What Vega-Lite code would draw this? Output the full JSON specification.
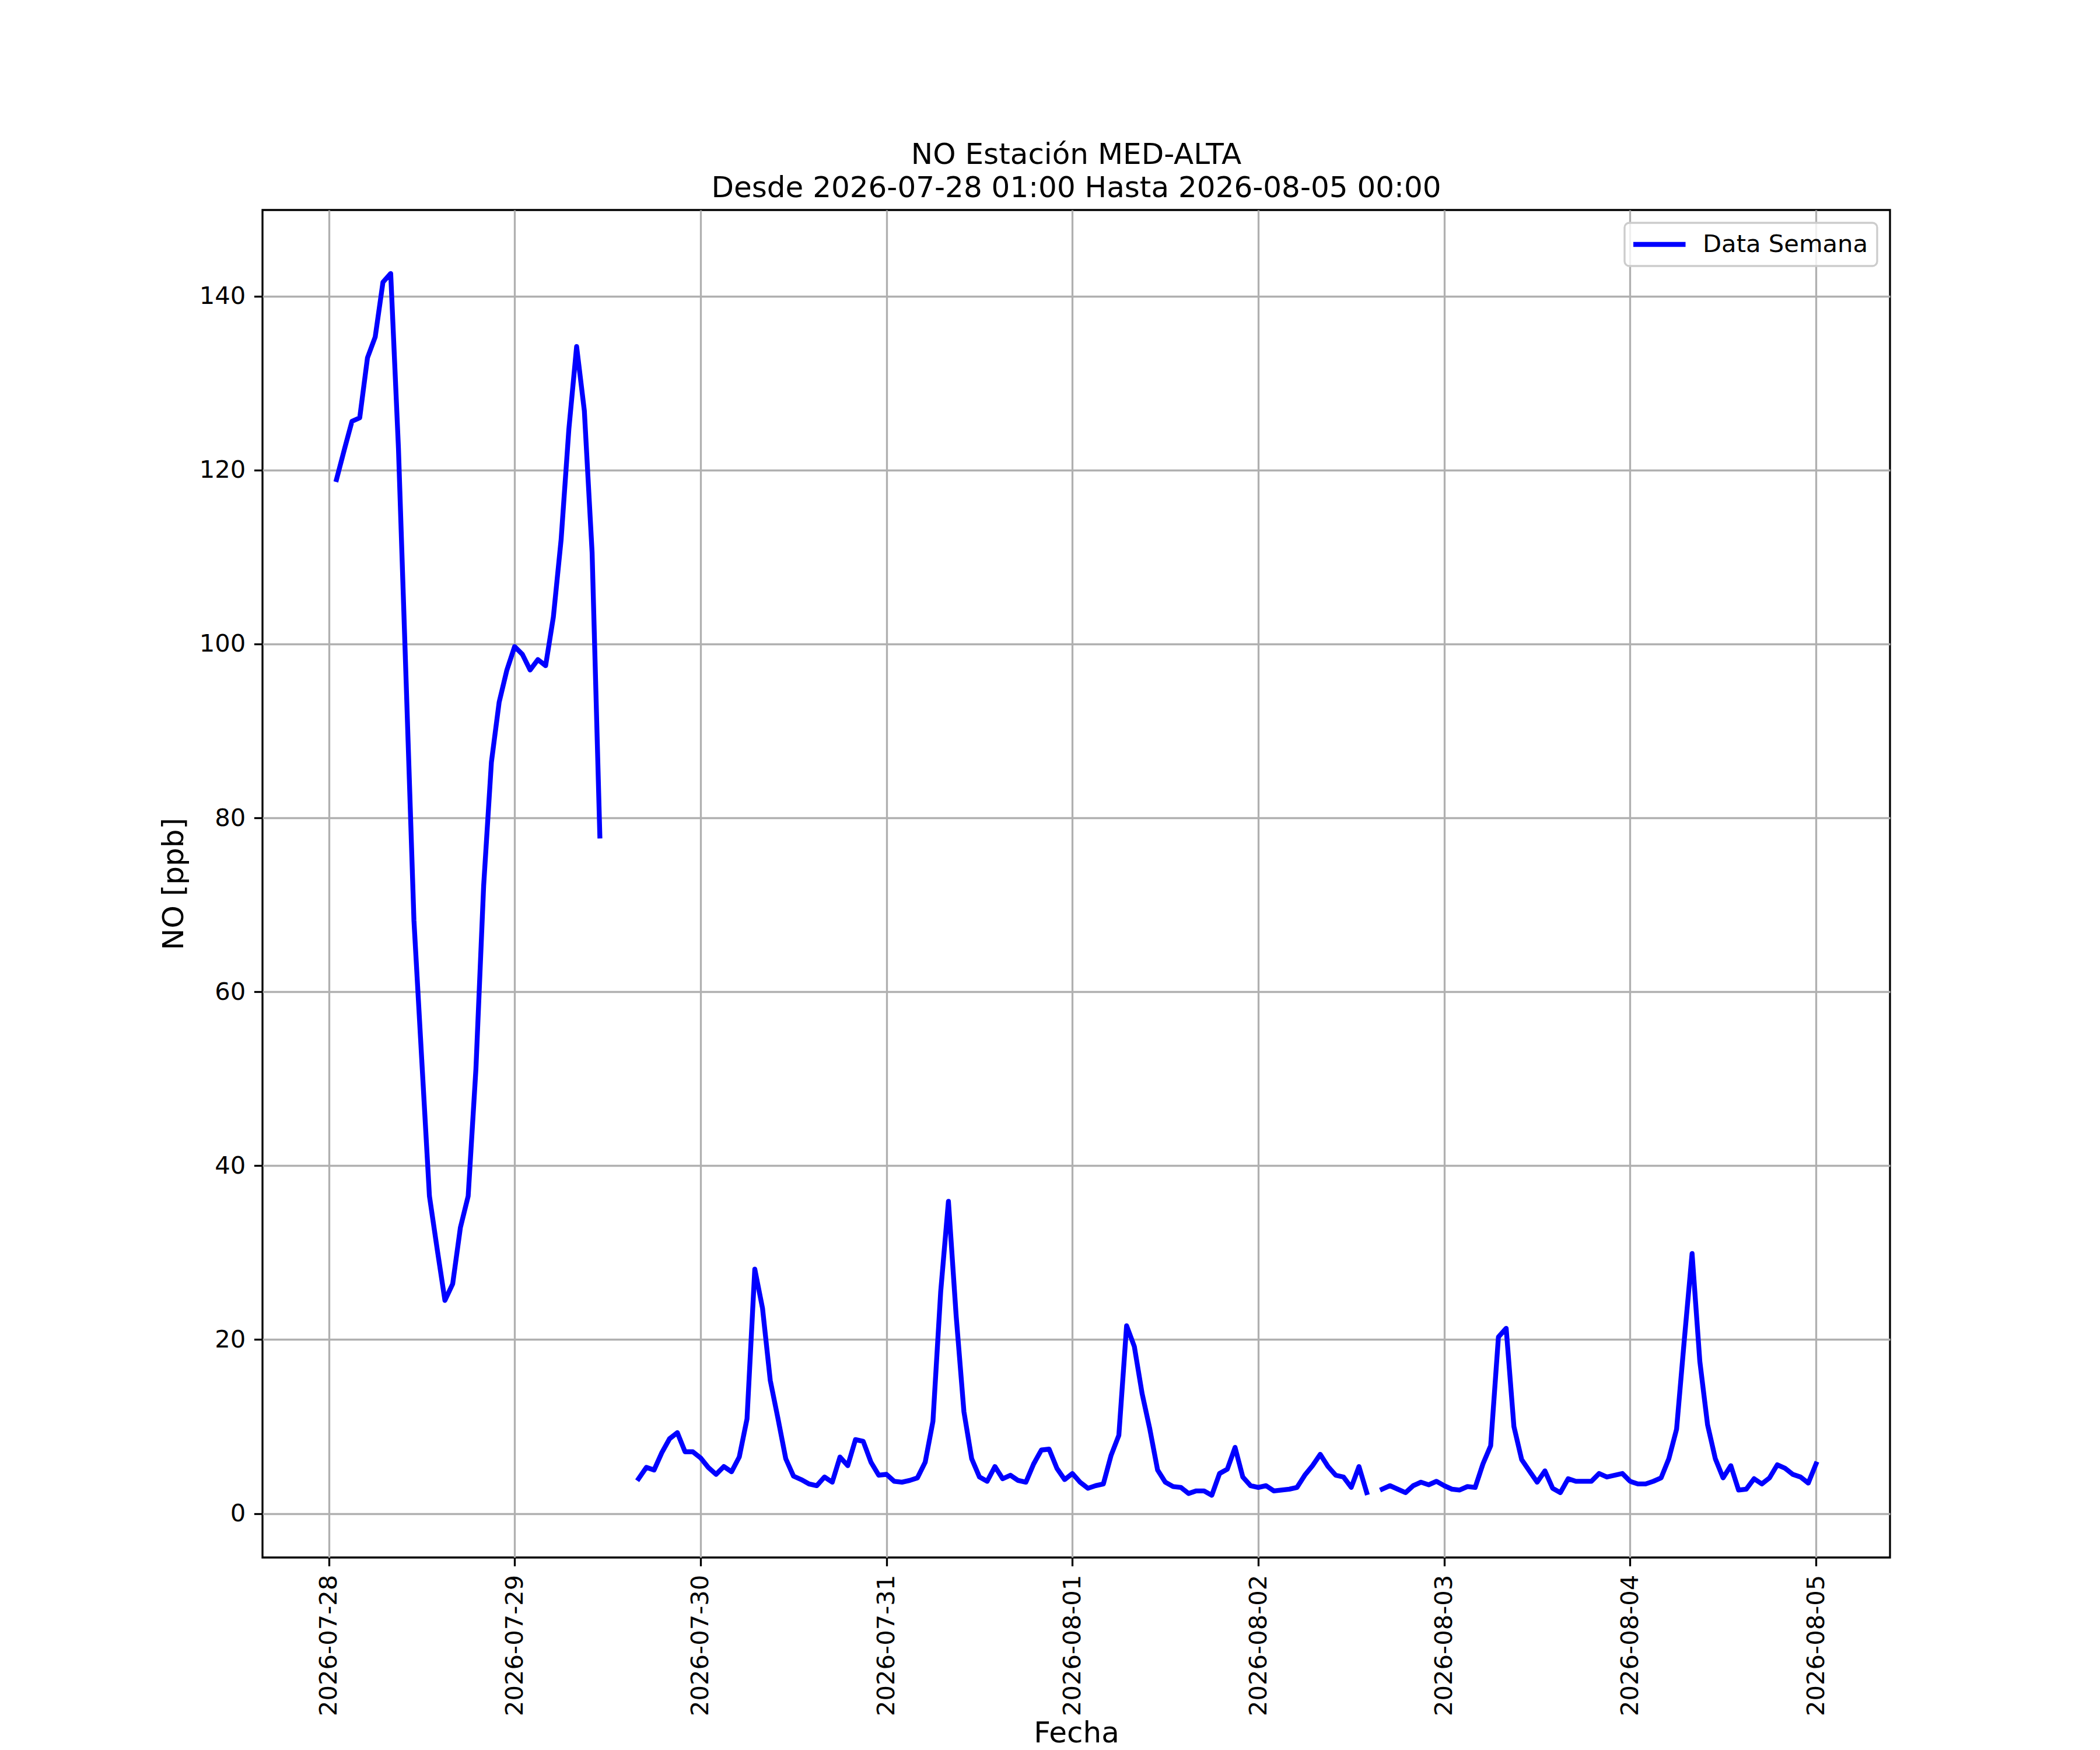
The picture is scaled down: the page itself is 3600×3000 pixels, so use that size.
{
  "$schema": "https://vega.github.io/schema/vega-lite/v6.json",
  "width": 2790,
  "height": 2310,
  "autosize": {"type": "none"},
  "padding": {"left": 450, "top": 360, "right": 360, "bottom": 330},
  "background": "white",
  "title": {
    "text": ["NO Estación MED-ALTA", "Desde 2026-07-28 01:00 Hasta 2026-08-05 00:00"],
    "anchor": "middle",
    "frame": "group",
    "font": "DejaVu Sans",
    "fontSize": 50,
    "fontWeight": "normal",
    "color": "black",
    "lineHeight": 57,
    "offset": 12
  },
  "data": {
    "format": {"parse": {"t": "date:'%Y-%m-%d %H:%M'"}},
    "values": [
      {"t": "2026-07-28 01:00", "no": 118.9},
      {"t": "2026-07-28 02:00", "no": 122.3},
      {"t": "2026-07-28 03:00", "no": 125.6},
      {"t": "2026-07-28 04:00", "no": 126.0},
      {"t": "2026-07-28 05:00", "no": 132.9},
      {"t": "2026-07-28 06:00", "no": 135.3},
      {"t": "2026-07-28 07:00", "no": 141.6},
      {"t": "2026-07-28 08:00", "no": 142.6},
      {"t": "2026-07-28 09:00", "no": 122.5},
      {"t": "2026-07-28 10:00", "no": 95.5},
      {"t": "2026-07-28 11:00", "no": 68.2},
      {"t": "2026-07-28 12:00", "no": 52.3},
      {"t": "2026-07-28 13:00", "no": 36.5},
      {"t": "2026-07-28 14:00", "no": 30.4},
      {"t": "2026-07-28 15:00", "no": 24.5},
      {"t": "2026-07-28 16:00", "no": 26.4},
      {"t": "2026-07-28 17:00", "no": 32.9},
      {"t": "2026-07-28 18:00", "no": 36.5},
      {"t": "2026-07-28 19:00", "no": 51.1},
      {"t": "2026-07-28 20:00", "no": 72.2},
      {"t": "2026-07-28 21:00", "no": 86.4},
      {"t": "2026-07-28 22:00", "no": 93.3},
      {"t": "2026-07-28 23:00", "no": 97.0},
      {"t": "2026-07-29 00:00", "no": 99.7},
      {"t": "2026-07-29 01:00", "no": 98.8},
      {"t": "2026-07-29 02:00", "no": 97.0},
      {"t": "2026-07-29 03:00", "no": 98.2},
      {"t": "2026-07-29 04:00", "no": 97.5},
      {"t": "2026-07-29 05:00", "no": 103.1},
      {"t": "2026-07-29 06:00", "no": 112.0},
      {"t": "2026-07-29 07:00", "no": 124.7},
      {"t": "2026-07-29 08:00", "no": 134.2},
      {"t": "2026-07-29 09:00", "no": 126.8},
      {"t": "2026-07-29 10:00", "no": 110.5},
      {"t": "2026-07-29 11:00", "no": 77.9},
      {"t": "2026-07-29 12:00", "no": null},
      {"t": "2026-07-29 13:00", "no": null},
      {"t": "2026-07-29 14:00", "no": null},
      {"t": "2026-07-29 15:00", "no": null},
      {"t": "2026-07-29 16:00", "no": 4.0},
      {"t": "2026-07-29 17:00", "no": 5.3},
      {"t": "2026-07-29 18:00", "no": 5.0},
      {"t": "2026-07-29 19:00", "no": 7.0},
      {"t": "2026-07-29 20:00", "no": 8.6},
      {"t": "2026-07-29 21:00", "no": 9.3},
      {"t": "2026-07-29 22:00", "no": 7.1},
      {"t": "2026-07-29 23:00", "no": 7.1},
      {"t": "2026-07-30 00:00", "no": 6.4},
      {"t": "2026-07-30 01:00", "no": 5.3},
      {"t": "2026-07-30 02:00", "no": 4.5},
      {"t": "2026-07-30 03:00", "no": 5.4},
      {"t": "2026-07-30 04:00", "no": 4.8},
      {"t": "2026-07-30 05:00", "no": 6.5},
      {"t": "2026-07-30 06:00", "no": 10.9},
      {"t": "2026-07-30 07:00", "no": 28.1},
      {"t": "2026-07-30 08:00", "no": 23.6},
      {"t": "2026-07-30 09:00", "no": 15.3},
      {"t": "2026-07-30 10:00", "no": 10.9},
      {"t": "2026-07-30 11:00", "no": 6.3},
      {"t": "2026-07-30 12:00", "no": 4.3},
      {"t": "2026-07-30 13:00", "no": 3.9},
      {"t": "2026-07-30 14:00", "no": 3.4},
      {"t": "2026-07-30 15:00", "no": 3.2},
      {"t": "2026-07-30 16:00", "no": 4.2},
      {"t": "2026-07-30 17:00", "no": 3.6},
      {"t": "2026-07-30 18:00", "no": 6.5},
      {"t": "2026-07-30 19:00", "no": 5.5},
      {"t": "2026-07-30 20:00", "no": 8.5},
      {"t": "2026-07-30 21:00", "no": 8.3},
      {"t": "2026-07-30 22:00", "no": 5.9},
      {"t": "2026-07-30 23:00", "no": 4.4},
      {"t": "2026-07-31 00:00", "no": 4.5},
      {"t": "2026-07-31 01:00", "no": 3.7},
      {"t": "2026-07-31 02:00", "no": 3.6},
      {"t": "2026-07-31 03:00", "no": 3.8},
      {"t": "2026-07-31 04:00", "no": 4.1},
      {"t": "2026-07-31 05:00", "no": 5.9},
      {"t": "2026-07-31 06:00", "no": 10.6},
      {"t": "2026-07-31 07:00", "no": 25.5},
      {"t": "2026-07-31 08:00", "no": 35.9},
      {"t": "2026-07-31 09:00", "no": 22.7},
      {"t": "2026-07-31 10:00", "no": 11.7},
      {"t": "2026-07-31 11:00", "no": 6.3},
      {"t": "2026-07-31 12:00", "no": 4.2},
      {"t": "2026-07-31 13:00", "no": 3.7},
      {"t": "2026-07-31 14:00", "no": 5.4},
      {"t": "2026-07-31 15:00", "no": 4.0},
      {"t": "2026-07-31 16:00", "no": 4.4},
      {"t": "2026-07-31 17:00", "no": 3.8},
      {"t": "2026-07-31 18:00", "no": 3.6},
      {"t": "2026-07-31 19:00", "no": 5.7},
      {"t": "2026-07-31 20:00", "no": 7.3},
      {"t": "2026-07-31 21:00", "no": 7.4},
      {"t": "2026-07-31 22:00", "no": 5.2},
      {"t": "2026-07-31 23:00", "no": 3.9},
      {"t": "2026-08-01 00:00", "no": 4.6},
      {"t": "2026-08-01 01:00", "no": 3.6},
      {"t": "2026-08-01 02:00", "no": 2.9},
      {"t": "2026-08-01 03:00", "no": 3.2},
      {"t": "2026-08-01 04:00", "no": 3.4},
      {"t": "2026-08-01 05:00", "no": 6.7},
      {"t": "2026-08-01 06:00", "no": 9.0},
      {"t": "2026-08-01 07:00", "no": 21.6},
      {"t": "2026-08-01 08:00", "no": 19.2},
      {"t": "2026-08-01 09:00", "no": 13.8},
      {"t": "2026-08-01 10:00", "no": 9.7},
      {"t": "2026-08-01 11:00", "no": 5.0},
      {"t": "2026-08-01 12:00", "no": 3.6},
      {"t": "2026-08-01 13:00", "no": 3.1},
      {"t": "2026-08-01 14:00", "no": 3.0},
      {"t": "2026-08-01 15:00", "no": 2.3},
      {"t": "2026-08-01 16:00", "no": 2.6},
      {"t": "2026-08-01 17:00", "no": 2.6},
      {"t": "2026-08-01 18:00", "no": 2.1},
      {"t": "2026-08-01 19:00", "no": 4.6},
      {"t": "2026-08-01 20:00", "no": 5.1},
      {"t": "2026-08-01 21:00", "no": 7.6},
      {"t": "2026-08-01 22:00", "no": 4.2},
      {"t": "2026-08-01 23:00", "no": 3.2},
      {"t": "2026-08-02 00:00", "no": 3.0},
      {"t": "2026-08-02 01:00", "no": 3.2},
      {"t": "2026-08-02 02:00", "no": 2.6},
      {"t": "2026-08-02 03:00", "no": 2.7},
      {"t": "2026-08-02 04:00", "no": 2.8},
      {"t": "2026-08-02 05:00", "no": 3.0},
      {"t": "2026-08-02 06:00", "no": 4.4},
      {"t": "2026-08-02 07:00", "no": 5.5},
      {"t": "2026-08-02 08:00", "no": 6.8},
      {"t": "2026-08-02 09:00", "no": 5.4},
      {"t": "2026-08-02 10:00", "no": 4.4},
      {"t": "2026-08-02 11:00", "no": 4.2},
      {"t": "2026-08-02 12:00", "no": 3.0},
      {"t": "2026-08-02 13:00", "no": 5.4},
      {"t": "2026-08-02 14:00", "no": 2.4},
      {"t": "2026-08-02 15:00", "no": null},
      {"t": "2026-08-02 16:00", "no": 2.8},
      {"t": "2026-08-02 17:00", "no": 3.2},
      {"t": "2026-08-02 18:00", "no": 2.8},
      {"t": "2026-08-02 19:00", "no": 2.4},
      {"t": "2026-08-02 20:00", "no": 3.2},
      {"t": "2026-08-02 21:00", "no": 3.6},
      {"t": "2026-08-02 22:00", "no": 3.3},
      {"t": "2026-08-02 23:00", "no": 3.7},
      {"t": "2026-08-03 00:00", "no": 3.2},
      {"t": "2026-08-03 01:00", "no": 2.8},
      {"t": "2026-08-03 02:00", "no": 2.7},
      {"t": "2026-08-03 03:00", "no": 3.1},
      {"t": "2026-08-03 04:00", "no": 3.0},
      {"t": "2026-08-03 05:00", "no": 5.7},
      {"t": "2026-08-03 06:00", "no": 7.8},
      {"t": "2026-08-03 07:00", "no": 20.3},
      {"t": "2026-08-03 08:00", "no": 21.3},
      {"t": "2026-08-03 09:00", "no": 10.0},
      {"t": "2026-08-03 10:00", "no": 6.2},
      {"t": "2026-08-03 11:00", "no": 4.9},
      {"t": "2026-08-03 12:00", "no": 3.6},
      {"t": "2026-08-03 13:00", "no": 4.9},
      {"t": "2026-08-03 14:00", "no": 2.9},
      {"t": "2026-08-03 15:00", "no": 2.4},
      {"t": "2026-08-03 16:00", "no": 4.0},
      {"t": "2026-08-03 17:00", "no": 3.7},
      {"t": "2026-08-03 18:00", "no": 3.7},
      {"t": "2026-08-03 19:00", "no": 3.7},
      {"t": "2026-08-03 20:00", "no": 4.6},
      {"t": "2026-08-03 21:00", "no": 4.2},
      {"t": "2026-08-03 22:00", "no": 4.4},
      {"t": "2026-08-03 23:00", "no": 4.6},
      {"t": "2026-08-04 00:00", "no": 3.7},
      {"t": "2026-08-04 01:00", "no": 3.4},
      {"t": "2026-08-04 02:00", "no": 3.4},
      {"t": "2026-08-04 03:00", "no": 3.7},
      {"t": "2026-08-04 04:00", "no": 4.1},
      {"t": "2026-08-04 05:00", "no": 6.3},
      {"t": "2026-08-04 06:00", "no": 9.7},
      {"t": "2026-08-04 07:00", "no": 20.0},
      {"t": "2026-08-04 08:00", "no": 29.9},
      {"t": "2026-08-04 09:00", "no": 17.5},
      {"t": "2026-08-04 10:00", "no": 10.2},
      {"t": "2026-08-04 11:00", "no": 6.3},
      {"t": "2026-08-04 12:00", "no": 4.1},
      {"t": "2026-08-04 13:00", "no": 5.5},
      {"t": "2026-08-04 14:00", "no": 2.7},
      {"t": "2026-08-04 15:00", "no": 2.8},
      {"t": "2026-08-04 16:00", "no": 4.0},
      {"t": "2026-08-04 17:00", "no": 3.4},
      {"t": "2026-08-04 18:00", "no": 4.1},
      {"t": "2026-08-04 19:00", "no": 5.6},
      {"t": "2026-08-04 20:00", "no": 5.2},
      {"t": "2026-08-04 21:00", "no": 4.5},
      {"t": "2026-08-04 22:00", "no": 4.2},
      {"t": "2026-08-04 23:00", "no": 3.5},
      {"t": "2026-08-05 00:00", "no": 5.7}
    ]
  },
  "mark": {
    "type": "line",
    "strokeWidth": 8.33,
    "strokeJoin": "round",
    "strokeCap": "square",
    "invalid": "break-paths-show-domains",
    "clip": true
  },
  "encoding": {
    "x": {
      "field": "t",
      "type": "temporal",
      "title": "Fecha",
      "scale": {
        "domain": [
          {"year": 2026, "month": 7, "date": 27, "hours": 15, "minutes": 27},
          {"year": 2026, "month": 8, "date": 5, "hours": 9, "minutes": 33}
        ],
        "nice": false
      },
      "axis": {
        "values": [
          {"year": 2026, "month": 7, "date": 28},
          {"year": 2026, "month": 7, "date": 29},
          {"year": 2026, "month": 7, "date": 30},
          {"year": 2026, "month": 7, "date": 31},
          {"year": 2026, "month": 8, "date": 1},
          {"year": 2026, "month": 8, "date": 2},
          {"year": 2026, "month": 8, "date": 3},
          {"year": 2026, "month": 8, "date": 4},
          {"year": 2026, "month": 8, "date": 5}
        ],
        "format": "%Y-%m-%d",
        "labelAngle": 270,
        "labelOverlap": false,
        "titlePadding": 76
      }
    },
    "y": {
      "field": "no",
      "type": "quantitative",
      "title": "NO [ppb]",
      "scale": {"domain": [-5.06, 149.9], "nice": false, "zero": false},
      "axis": {
        "values": [0, 20, 40, 60, 80, 100, 120, 140],
        "labelOverlap": false,
        "titlePadding": 18
      }
    },
    "color": {
      "datum": "Data Semana",
      "type": "nominal",
      "scale": {"range": ["#0000ff"]},
      "legend": {
        "title": null,
        "orient": "top-right",
        "offset": 22,
        "symbolType": "stroke",
        "symbolSize": 8281,
        "symbolOffset": -6,
        "symbolStrokeWidth": 8.33,
        "clipHeight": 44,
        "labelFont": "DejaVu Sans",
        "labelFontSize": 41.7,
        "labelColor": "black",
        "labelLimit": 1000,
        "labelOffset": 25,
        "padding": 15,
        "strokeColor": "#cccccc",
        "fillColor": "rgba(255,255,255,0.8)",
        "cornerRadius": 8,
        "encode": {
          "legend": {"update": {"strokeWidth": {"value": 3.3}}}
        }
      }
    }
  },
  "config": {
    "view": {"stroke": "black", "strokeWidth": 3.3},
    "axis": {
      "labelFont": "DejaVu Sans",
      "labelFontSize": 41.7,
      "labelColor": "black",
      "labelFlush": false,
      "labelLimit": 1000,
      "labelPadding": 14.6,
      "titleFont": "DejaVu Sans",
      "titleFontSize": 50,
      "titleFontWeight": "normal",
      "titleColor": "black",
      "tickColor": "black",
      "tickWidth": 3.3,
      "tickSize": 14.6,
      "grid": true,
      "gridColor": "#b0b0b0",
      "gridWidth": 3.3,
      "domain": false
    }
  }
}
